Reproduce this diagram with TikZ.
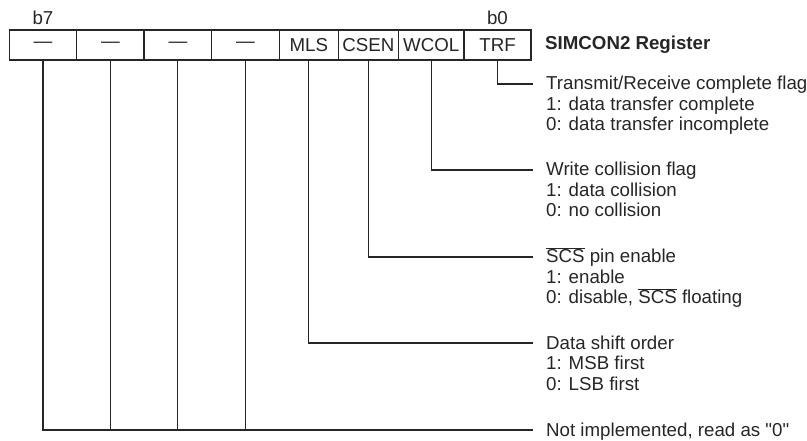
\documentclass[tikz,border=0pt]{standalone}
\usepackage{fontspec}
\setmainfont{Liberation Sans}
\newfontfamily\qfnt{Liberation Sans}
\newcommand\ovlt[1]{$\overline{\mbox{#1}}$}
\newcommand\sq{{\qfnt"}}
\begin{document}
\begin{tikzpicture}[x=1pt,y=-1pt,
  every node/.style={font=\fontsize{18.7}{20.5}\selectfont, inner sep=0pt, text=black!85},
  cell/.style={draw=black!85, line width=1.2pt, minimum height=30pt},
  lead/.style={draw=black!85, line width=1.2pt},
  desc/.style={anchor=base west}]
\useasboundingbox (0,0) rectangle (807,441);
% register cells
\node[cell, minimum width=67.4pt] (c7) at (43,45) {---};
\node[cell, minimum width=67.3pt] (c6) at (110.35,45) {---};
\node[cell, minimum width=67.7pt] (c5) at (177.85,45) {---};
\node[cell, minimum width=67.6pt] (c4) at (245.5,45) {---};
\node[cell, minimum width=59pt] (c3) at (308.8,45) {MLS};
\node[cell, minimum width=60pt] (c2) at (368.3,45) {CSEN};
\node[cell, minimum width=65.7pt] (c1) at (431.15,45) {WCOL};
\node[cell, minimum width=67pt] (c0) at (497.5,45) {TRF};
\node (b7) at (43,18) {b7};
\node (b0) at (497.5,18) {b0};
\node[anchor=west, font=\fontsize{18.7}{20.5}\selectfont\bfseries] (title) at (545,45) {SIMCON2 Register};
% leader end points
\coordinate (e0) at (533,84);
\coordinate (e1) at (533,170);
\coordinate (e2) at (533,257);
\coordinate (e3) at (533,343);
\coordinate (e4) at (533,430);
\draw[lead] (c0.south) |- (e0);
\draw[lead] (c1.south) |- (e1);
\draw[lead] (c2.south) |- (e2);
\draw[lead] (c3.south) |- (e3);
\draw[lead] (c7.south) |- (e4);
\draw[lead] (c6.south) -- (c6.south |- e4);
\draw[lead] (c5.south) -- (c5.south |- e4);
\draw[lead] (c4.south) -- (c4.south |- e4);
% descriptions
\node[desc] (d0a) at (546,90) {Transmit/Receive complete flag};
\node[desc] (d0b) at (546,110.5) {1: data transfer complete};
\node[desc] (d0c) at (546,131) {0: data transfer incomplete};
\node[desc] (d1a) at (546,176) {Write collision flag};
\node[desc] (d1b) at (546,196.5) {1: data collision};
\node[desc] (d1c) at (546,217) {0: no collision};
\node[desc] (d2a) at (546,263) {\ovlt{SCS} pin enable};
\node[desc] (d2b) at (546,283.5) {1: enable};
\node[desc] (d2c) at (546,304) {0: disable, \ovlt{SCS} floating};
\node[desc] (d3a) at (546,349) {Data shift order};
\node[desc] (d3b) at (546,369.5) {1: MSB first};
\node[desc] (d3c) at (546,390) {0: LSB first};
\node[desc] (d4a) at (546,436) {Not implemented, read as \sq0\sq};
\end{tikzpicture}
\end{document}
